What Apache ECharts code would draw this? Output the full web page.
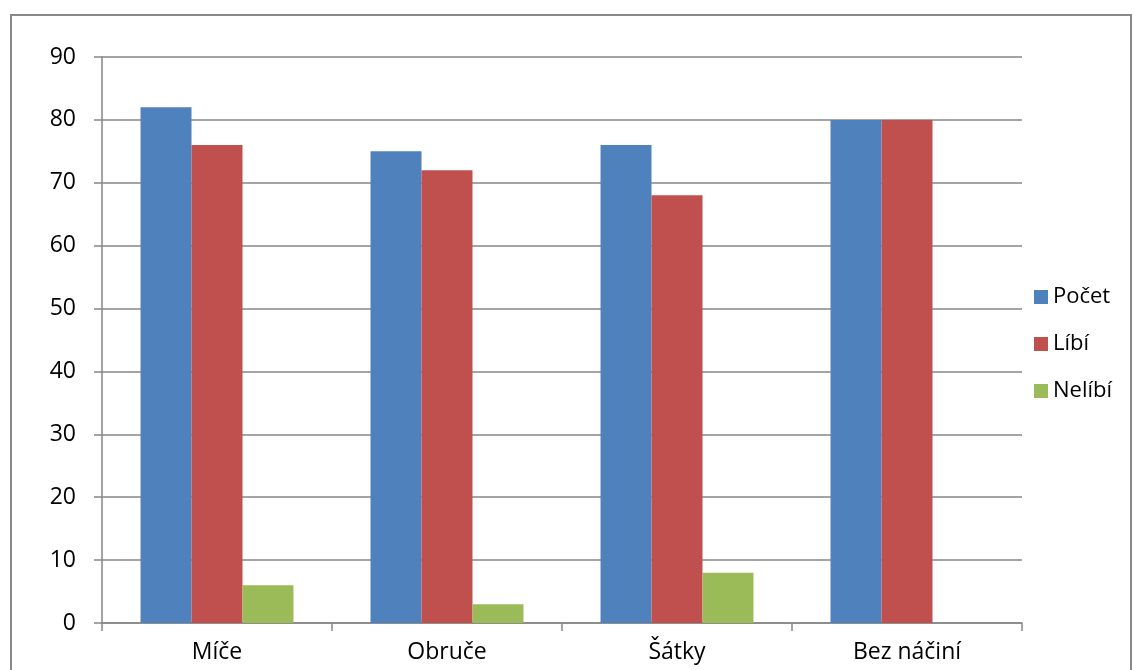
<!DOCTYPE html>
<html>
<head>
<meta charset="utf-8">
<script src="https://cdn.jsdelivr.net/npm/echarts@6/dist/echarts.min.js"></script>
<style>
  html, body { margin: 0; padding: 0; background: #fff; }
  #frame { position: absolute; left: 10px; top: 14px; width: 1122px; height: 700px; border: 2px solid #898989; box-sizing: border-box; }
  #chart { position: absolute; left: 0; top: 0; width: 1134px; height: 670px; }
</style>
</head>
<body>
<div id="frame"></div>
<div id="chart"></div>
<script>
var categories = ['Míče', 'Obruče', 'Šátky', 'Bez náčiní'];
var pocet = [82, 75, 76, 80];
var libi = [76, 72, 68, 80];
var nelibi = [6, 3, 8, 0];

var myChart = echarts.init(document.getElementById('chart'));
var font = 'Open Sans';
var option = {
    animation: false,
    textStyle: { fontFamily: font },
    legend: {
        orient: 'vertical',
        left: 1029,
        top: 281,
        itemWidth: 14,
        itemHeight: 14,
        itemGap: 25,
        icon: 'rect',
        textStyle: { fontSize: 22, color: '#000', fontFamily: font },
        data: ['Počet', 'Líbí', 'Nelíbí']
    },
    grid: {
        left: 102,
        right: 112,
        top: 57,
        bottom: 47
    },
    xAxis: {
        type: 'category',
        data: categories,
        axisLine: { lineStyle: { color: '#868686', width: 1.5 } },
        axisTick: { show: true, length: 8, lineStyle: { color: '#868686', width: 1.5 } },
        axisLabel: { color: '#000', fontSize: 23, margin: 18, fontFamily: font }
    },
    yAxis: {
        type: 'value',
        min: 0,
        max: 90,
        interval: 10,
        axisLine: { show: true, lineStyle: { color: '#868686', width: 1.5 } },
        axisTick: { show: true, length: 8, lineStyle: { color: '#868686', width: 1.5 } },
        splitLine: { lineStyle: { color: '#868686', width: 1.5 } },
        axisLabel: { color: '#000', fontSize: 23, margin: 26, fontFamily: font }
    },
    series: [
        { name: 'Počet', type: 'bar', data: pocet, barGap: '0%', barCategoryGap: '33.5%', itemStyle: { color: '#4F81BD' } },
        { name: 'Líbí', type: 'bar', data: libi, itemStyle: { color: '#C0504D' } },
        { name: 'Nelíbí', type: 'bar', data: nelibi, itemStyle: { color: '#9BBB59' } }
    ]
};
myChart.setOption(option);
</script>
</body>
</html>
